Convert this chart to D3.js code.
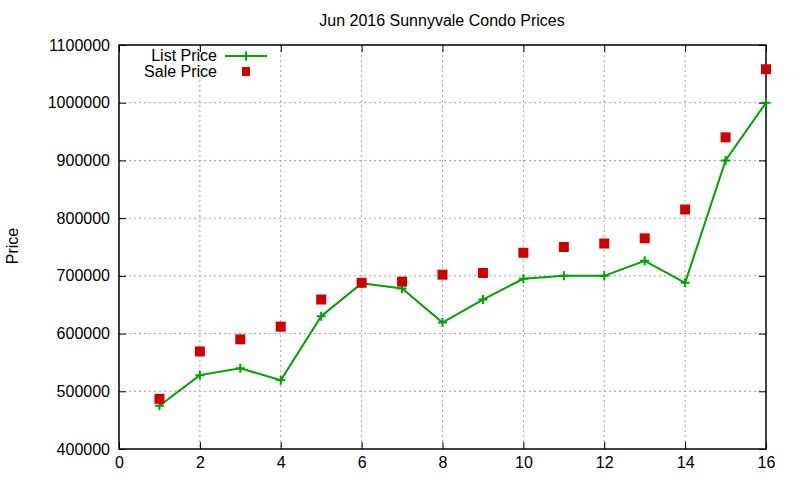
<!DOCTYPE html>
<html>
<head>
<meta charset="utf-8">
<script src="https://cdn.jsdelivr.net/npm/d3@7"></script>
<style>
  body { margin: 0; background: #fff; }
  text { font-family: "Liberation Sans", Arial, sans-serif; }
</style>
</head>
<body>
<div id="chart"></div>
<script>
// data
const months = [1, 2, 3, 4, 5, 6, 7, 8, 9, 10, 11, 12, 13, 14, 15, 16];
const listPrice = [475000, 528000, 540000, 519000, 630000, 687000, 678000, 619000,
                   659000, 695000, 700000, 700000, 726000, 688000, 900000, 1000000];
const salePrice = [487000, 569000, 590000, 612000, 659000, 688000, 690000, 702000,
                   705000, 740000, 750000, 756000, 765000, 815000, 940000, 1058000];
const xTicks = [0, 2, 4, 6, 8, 10, 12, 14, 16];
const yTicks = [400000, 500000, 600000, 700000, 800000, 900000, 1000000, 1100000];

const width = 800;
const height = 480;
const margin = {top: 45, right: 34, bottom: 31, left: 119};
const graphWidth = width - margin.left - margin.right;
const graphHeight = height - margin.top - margin.bottom;

const svg = d3.select('#chart')
    .append('svg')
    .attr('width', width)
    .attr('height', height);

const xScale = d3.scaleLinear().domain([0, 16]).range([0, graphWidth]);
const yScale = d3.scaleLinear().domain([400000, 1100000]).range([graphHeight, 0]);

const graph = svg.append('g')
    .attr('transform', `translate(${margin.left}, ${margin.top})`);

// grid
graph.append('g').selectAll('line')
    .data(xTicks.slice(1, -1))
    .enter().append('line')
    .attr('x1', d => xScale(d)).attr('x2', d => xScale(d))
    .attr('y1', 0).attr('y2', graphHeight)
    .attr('stroke', '#a0a0a0').attr('stroke-dasharray', '2,3');

graph.append('g').selectAll('line')
    .data(yTicks.slice(1, -1))
    .enter().append('line')
    .attr('y1', d => yScale(d)).attr('y2', d => yScale(d))
    .attr('x1', 0).attr('x2', graphWidth)
    .attr('stroke', '#a0a0a0').attr('stroke-dasharray', '2,3');

// axes (gnuplot style: ticks inside, mirrored)
const tickLen = 7;
const xAxis = d3.axisBottom(xScale).tickValues(xTicks).tickSizeInner(-tickLen).tickSizeOuter(0).tickPadding(8);
const yAxis = d3.axisLeft(yScale).tickValues(yTicks).tickSizeInner(-tickLen).tickSizeOuter(0).tickPadding(9).tickFormat(d3.format('d'));
const xTop = d3.axisTop(xScale).tickValues(xTicks).tickSizeInner(-tickLen).tickSizeOuter(0).tickFormat('');
const yRight = d3.axisRight(yScale).tickValues(yTicks).tickSizeInner(-tickLen).tickSizeOuter(0).tickFormat('');

[
  [xAxis, `translate(0, ${graphHeight})`],
  [yAxis, 'translate(0, 0)'],
  [xTop, 'translate(0, 0)'],
  [yRight, `translate(${graphWidth}, 0)`]
].forEach(([ax, tr]) => {
  const g = graph.append('g').attr('transform', tr).call(ax);
  g.select('.domain').remove();
  g.selectAll('line').attr('stroke', '#000');
  g.selectAll('text').attr('font-size', 16).attr('fill', '#000')
    .style('font-family', '"Liberation Sans", Arial, sans-serif');
});

graph.append('rect')
    .attr('width', graphWidth).attr('height', graphHeight)
    .attr('fill', 'none').attr('stroke', '#000').attr('stroke-width', 1.5);

// list price line
const green = '#00a000';
const red = '#cc0000';
const line = d3.line()
    .x((d, i) => xScale(months[i]))
    .y(d => yScale(d));

graph.append('path')
    .datum(listPrice)
    .attr('d', line)
    .attr('fill', 'none')
    .attr('stroke', green)
    .attr('stroke-width', 2);

function plusPath(s) {
  return `M${-s},0H${s}M0,${-s}V${s}`;
}

graph.append('g').selectAll('path')
    .data(listPrice)
    .enter().append('path')
    .attr('transform', (d, i) => `translate(${xScale(months[i])}, ${yScale(d)})`)
    .attr('d', plusPath(4.5))
    .attr('stroke', green).attr('stroke-width', 2);

// sale price squares
const sq = 10;
graph.append('g').selectAll('rect')
    .data(salePrice)
    .enter().append('rect')
    .attr('x', (d, i) => xScale(months[i]) - sq / 2)
    .attr('y', d => yScale(d) - sq / 2)
    .attr('width', sq).attr('height', sq)
    .attr('fill', red);

// title and labels
svg.append('text')
    .attr('x', 442).attr('y', 26)
    .attr('text-anchor', 'middle')
    .attr('font-size', 16)
    .text('Jun 2016 Sunnyvale Condo Prices');

svg.append('text')
    .attr('transform', 'translate(18, 246) rotate(-90)')
    .attr('text-anchor', 'middle')
    .attr('font-size', 16)
    .text('Price');

// legend
const legend = svg.append('g');
legend.append('text')
    .attr('x', 217).attr('y', 61)
    .attr('text-anchor', 'end').attr('font-size', 16)
    .text('List Price');
legend.append('line')
    .attr('x1', 225).attr('x2', 267).attr('y1', 56).attr('y2', 56)
    .attr('stroke', green).attr('stroke-width', 2);
legend.append('path')
    .attr('transform', 'translate(246, 56)')
    .attr('d', plusPath(4.5))
    .attr('stroke', green).attr('stroke-width', 2);
legend.append('text')
    .attr('x', 217).attr('y', 77)
    .attr('text-anchor', 'end').attr('font-size', 16)
    .text('Sale Price');
legend.append('rect')
    .attr('x', 246 - sq / 2 + 1).attr('y', 72 - sq / 2)
    .attr('width', sq - 2).attr('height', sq - 1)
    .attr('fill', red);
</script>
</body>
</html>
